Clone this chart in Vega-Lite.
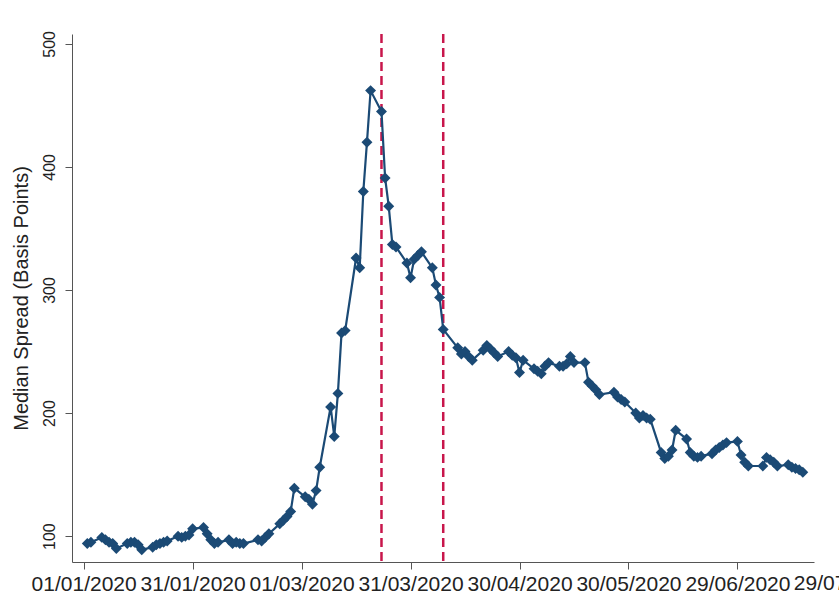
{
  "$schema": "https://vega.github.io/schema/vega-lite/v6.json",
  "width": 742,
  "height": 528,
  "autosize": {"type": "none"},
  "padding": {"left": 72, "top": 34, "right": 25, "bottom": 36},
  "background": "white",
  "config": {"view": {"stroke": null}, "font": "Liberation Sans"},
  "datasets": {
    "events": [{"date": "2020-03-23"}, {"date": "2020-04-09"}],
    "lastTick": [{"date": "2020-07-29"}],
    "spreads": [
      {"date": "2020-01-02", "spread": 94}, {"date": "2020-01-03", "spread": 95}, {"date": "2020-01-06", "spread": 99},
      {"date": "2020-01-07", "spread": 97}, {"date": "2020-01-08", "spread": 95}, {"date": "2020-01-09", "spread": 94},
      {"date": "2020-01-10", "spread": 90}, {"date": "2020-01-13", "spread": 94}, {"date": "2020-01-14", "spread": 95},
      {"date": "2020-01-15", "spread": 95}, {"date": "2020-01-16", "spread": 93}, {"date": "2020-01-17", "spread": 89},
      {"date": "2020-01-20", "spread": 91}, {"date": "2020-01-21", "spread": 93}, {"date": "2020-01-22", "spread": 94},
      {"date": "2020-01-23", "spread": 95}, {"date": "2020-01-24", "spread": 96}, {"date": "2020-01-27", "spread": 100},
      {"date": "2020-01-28", "spread": 99}, {"date": "2020-01-29", "spread": 100}, {"date": "2020-01-30", "spread": 101},
      {"date": "2020-01-31", "spread": 106}, {"date": "2020-02-03", "spread": 107}, {"date": "2020-02-04", "spread": 102},
      {"date": "2020-02-05", "spread": 97}, {"date": "2020-02-06", "spread": 94}, {"date": "2020-02-07", "spread": 95},
      {"date": "2020-02-10", "spread": 97}, {"date": "2020-02-11", "spread": 94}, {"date": "2020-02-12", "spread": 95},
      {"date": "2020-02-13", "spread": 94}, {"date": "2020-02-14", "spread": 94}, {"date": "2020-02-18", "spread": 97},
      {"date": "2020-02-19", "spread": 96}, {"date": "2020-02-20", "spread": 99}, {"date": "2020-02-21", "spread": 102},
      {"date": "2020-02-24", "spread": 110}, {"date": "2020-02-25", "spread": 113}, {"date": "2020-02-26", "spread": 116},
      {"date": "2020-02-27", "spread": 120}, {"date": "2020-02-28", "spread": 139}, {"date": "2020-03-02", "spread": 132},
      {"date": "2020-03-03", "spread": 130}, {"date": "2020-03-04", "spread": 126}, {"date": "2020-03-05", "spread": 137},
      {"date": "2020-03-06", "spread": 156}, {"date": "2020-03-09", "spread": 205}, {"date": "2020-03-10", "spread": 181},
      {"date": "2020-03-11", "spread": 216}, {"date": "2020-03-12", "spread": 265}, {"date": "2020-03-13", "spread": 267},
      {"date": "2020-03-16", "spread": 326}, {"date": "2020-03-17", "spread": 318}, {"date": "2020-03-18", "spread": 380},
      {"date": "2020-03-19", "spread": 420}, {"date": "2020-03-20", "spread": 462}, {"date": "2020-03-23", "spread": 445},
      {"date": "2020-03-24", "spread": 391}, {"date": "2020-03-25", "spread": 368}, {"date": "2020-03-26", "spread": 337},
      {"date": "2020-03-27", "spread": 335}, {"date": "2020-03-30", "spread": 322}, {"date": "2020-03-31", "spread": 310},
      {"date": "2020-04-01", "spread": 325}, {"date": "2020-04-02", "spread": 328}, {"date": "2020-04-03", "spread": 331},
      {"date": "2020-04-06", "spread": 318}, {"date": "2020-04-07", "spread": 304}, {"date": "2020-04-08", "spread": 294},
      {"date": "2020-04-09", "spread": 268}, {"date": "2020-04-13", "spread": 253}, {"date": "2020-04-14", "spread": 248},
      {"date": "2020-04-15", "spread": 250}, {"date": "2020-04-16", "spread": 246}, {"date": "2020-04-17", "spread": 243},
      {"date": "2020-04-20", "spread": 251}, {"date": "2020-04-21", "spread": 255}, {"date": "2020-04-22", "spread": 252},
      {"date": "2020-04-23", "spread": 249}, {"date": "2020-04-24", "spread": 246}, {"date": "2020-04-27", "spread": 250},
      {"date": "2020-04-28", "spread": 247}, {"date": "2020-04-29", "spread": 245}, {"date": "2020-04-30", "spread": 233},
      {"date": "2020-05-01", "spread": 243}, {"date": "2020-05-04", "spread": 236}, {"date": "2020-05-05", "spread": 234},
      {"date": "2020-05-06", "spread": 232}, {"date": "2020-05-07", "spread": 238}, {"date": "2020-05-08", "spread": 241},
      {"date": "2020-05-11", "spread": 238}, {"date": "2020-05-12", "spread": 238}, {"date": "2020-05-13", "spread": 240},
      {"date": "2020-05-14", "spread": 246}, {"date": "2020-05-15", "spread": 241}, {"date": "2020-05-18", "spread": 241},
      {"date": "2020-05-19", "spread": 225}, {"date": "2020-05-20", "spread": 222}, {"date": "2020-05-21", "spread": 219},
      {"date": "2020-05-22", "spread": 215}, {"date": "2020-05-26", "spread": 217}, {"date": "2020-05-27", "spread": 213},
      {"date": "2020-05-28", "spread": 211}, {"date": "2020-05-29", "spread": 209}, {"date": "2020-06-01", "spread": 200},
      {"date": "2020-06-02", "spread": 196}, {"date": "2020-06-03", "spread": 198}, {"date": "2020-06-04", "spread": 196},
      {"date": "2020-06-05", "spread": 195}, {"date": "2020-06-08", "spread": 168}, {"date": "2020-06-09", "spread": 163},
      {"date": "2020-06-10", "spread": 165}, {"date": "2020-06-11", "spread": 170}, {"date": "2020-06-12", "spread": 186},
      {"date": "2020-06-15", "spread": 179}, {"date": "2020-06-16", "spread": 168}, {"date": "2020-06-17", "spread": 165},
      {"date": "2020-06-18", "spread": 164}, {"date": "2020-06-19", "spread": 165}, {"date": "2020-06-22", "spread": 167},
      {"date": "2020-06-23", "spread": 170}, {"date": "2020-06-24", "spread": 172}, {"date": "2020-06-25", "spread": 174},
      {"date": "2020-06-26", "spread": 176}, {"date": "2020-06-29", "spread": 177}, {"date": "2020-06-30", "spread": 166},
      {"date": "2020-07-01", "spread": 160}, {"date": "2020-07-02", "spread": 157}, {"date": "2020-07-06", "spread": 157},
      {"date": "2020-07-07", "spread": 164}, {"date": "2020-07-08", "spread": 162}, {"date": "2020-07-09", "spread": 160},
      {"date": "2020-07-10", "spread": 157}, {"date": "2020-07-13", "spread": 158}, {"date": "2020-07-14", "spread": 156},
      {"date": "2020-07-15", "spread": 155}, {"date": "2020-07-16", "spread": 154}, {"date": "2020-07-17", "spread": 152}
    ]
  },
  "layer": [
    {
      "data": {"name": "events"},
      "mark": {"type": "rule", "color": "#c8164b", "strokeWidth": 2.5, "strokeDash": [9, 5]},
      "encoding": {
        "x": {"field": "date", "type": "temporal"}
      }
    },
    {
      "data": {"name": "spreads"},
      "mark": {"type": "line", "color": "#1b4a75", "strokeWidth": 2.2},
      "encoding": {
        "x": {
          "field": "date",
          "type": "temporal",
          "scale": {
            "type": "utc",
            "domain": [
              {"year": 2019, "month": 12, "date": 28, "hours": 19, "utc": true},
              {"year": 2020, "month": 7, "date": 20, "hours": 2, "utc": true}
            ]
          },
          "axis": {
            "title": null,
            "grid": false,
            "format": "%d/%m/%Y",
            "values": [
              {"year": 2020, "month": 1, "date": 1, "utc": true},
              {"year": 2020, "month": 1, "date": 31, "utc": true},
              {"year": 2020, "month": 3, "date": 1, "utc": true},
              {"year": 2020, "month": 3, "date": 31, "utc": true},
              {"year": 2020, "month": 4, "date": 30, "utc": true},
              {"year": 2020, "month": 5, "date": 30, "utc": true},
              {"year": 2020, "month": 6, "date": 29, "utc": true}
            ],
            "labelFontSize": 21,
            "labelColor": "#222222",
            "labelOverlap": false,
            "labelFlush": false,
            "labelBound": false,
            "labelPadding": 4,
            "tickSize": 7,
            "tickColor": "#555555",
            "domainColor": "#555555"
          }
        },
        "y": {
          "field": "spread",
          "type": "quantitative",
          "scale": {"domain": [79, 508], "nice": false, "zero": false},
          "axis": {
            "title": "Median Spread (Basis Points)",
            "titleFontSize": 20,
            "titleFontWeight": "normal",
            "titleColor": "#222222",
            "titlePadding": 10,
            "grid": false,
            "values": [100, 200, 300, 400, 500],
            "labelAngle": 270,
            "labelAlign": "center",
            "labelBaseline": "bottom",
            "labelFontSize": 16,
            "labelColor": "#222222",
            "labelPadding": 8,
            "tickSize": 7,
            "tickColor": "#555555",
            "domainColor": "#555555"
          }
        }
      }
    },
    {
      "data": {"name": "spreads"},
      "mark": {"type": "point", "shape": "diamond", "filled": true, "size": 120, "color": "#1b4a75", "opacity": 1},
      "encoding": {
        "x": {"field": "date", "type": "temporal"},
        "y": {"field": "spread", "type": "quantitative"}
      }
    },
    {
      "data": {"name": "lastTick"},
      "mark": {"type": "text", "fontSize": 21, "color": "#222222", "align": "center", "baseline": "top", "dy": 11},
      "encoding": {
        "x": {"field": "date", "type": "temporal"},
        "y": {"datum": 79},
        "text": {"field": "date", "type": "temporal", "format": "%d/%m/%Y"}
      }
    }
  ]
}
